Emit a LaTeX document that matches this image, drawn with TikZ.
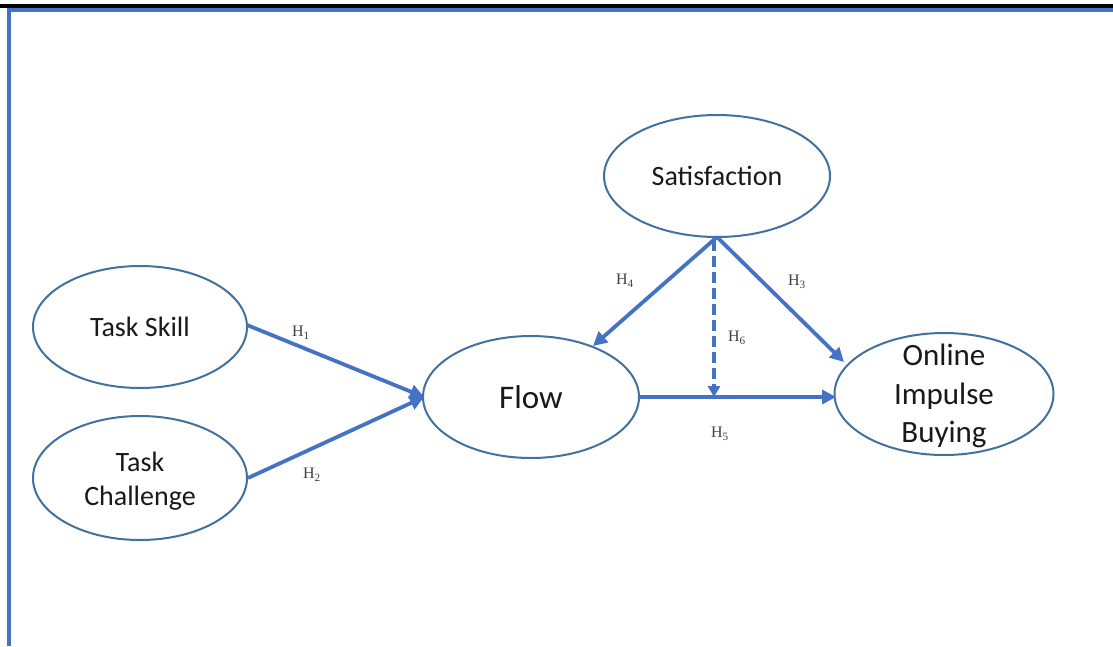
\documentclass[tikz,border=0pt]{standalone}
\usepackage{fontspec}
\setmainfont{Carlito}
\newfontfamily\labelfont{Liberation Serif}
\usetikzlibrary{shapes.geometric,arrows.meta}
\definecolor{officeblue}{HTML}{4472C4}
\definecolor{rimblue}{HTML}{41719C}
\tikzset{
  construct/.style={ellipse, draw=rimblue, line width=2pt, fill=white,
    inner sep=0pt},
  caption/.style={align=center, inner sep=0pt, text=black!90,
    font=\fontsize{28}{34}\selectfont},
  path/.style={draw=officeblue, line width=3.8pt,
    -{Triangle[length=14pt,width=14pt]}},
  hyp/.style={font=\labelfont\fontsize{16}{18}\selectfont, text=black!75},
}
\begin{document}
\begin{tikzpicture}[x=1pt,y=-1pt]
  \useasboundingbox (0,0) rectangle (1113,646);
  % page frame
  \fill[black] (0,4) rectangle (1113,8);
  \fill[officeblue] (7,8) rectangle (1113,12);
  \fill[officeblue] (7,8) rectangle (11,646);

  % constructs
  \node[construct, minimum width=226pt, minimum height=122pt] (sat) at (717,176) {};
  \node[caption] (sattext) at (sat) {Satisfaction};
  \node[construct, minimum width=214pt, minimum height=122pt] (skill) at (140,327) {};
  \node[caption] (skilltext) at (skill) {Task Skill};
  \node[construct, minimum width=214pt, minimum height=124pt] (chal) at (140,478) {};
  \node[caption] (chaltext) at (140,481) {Task\\Challenge};
  \node[construct, minimum width=216pt, minimum height=122pt] (flow) at (531,397) {};
  \node[caption, font=\fontsize{33}{38}\selectfont] (flowtext) at (flow) {Flow};
  \node[construct, minimum width=219pt, minimum height=122pt] (oib) at (944,394) {};
  \node[caption, font=\fontsize{31}{38.5}\selectfont] (oibtext) at (944,396) {Online\\Impulse\\Buying};

  % arrow end points on the ellipses
  \coordinate (satb) at (717,237);
  \coordinate (skillout) at (247,325);
  \coordinate (chalout) at (248,478);
  \coordinate (flowin) at (424,397);
  \coordinate (flowtop) at (593,346);
  \coordinate (flowout) at (639,397);
  \coordinate (oibtop) at (844,362);
  \coordinate (oibin) at (836,397);
  \coordinate (dashstart) at (714,240);
  \coordinate (dashend) at (714,397);

  % hypothesised paths
  \draw[path] (skillout) -- (flowin);
  \draw[path] (chalout) -- (flowin);
  \draw[path] (satb) -- (flowtop);
  \draw[path] (satb) -- (oibtop);
  \draw[path] (flowout) -- (oibin);
  \draw[path, dash pattern=on 11pt off 5pt,
    -{Triangle[length=11pt,width=12pt]}] (dashstart) -- (dashend);

  % hypothesis labels
  \node[hyp] (h1) at (301,333) {H\textsubscript{1}};
  \node[hyp] (h2) at (312,475) {H\textsubscript{2}};
  \node[hyp] (h4) at (625,281) {H\textsubscript{4}};
  \node[hyp] (h3) at (797,282) {H\textsubscript{3}};
  \node[hyp] (h6) at (737,338) {H\textsubscript{6}};
  \node[hyp] (h5) at (720,434) {H\textsubscript{5}};
\end{tikzpicture}
\end{document}
